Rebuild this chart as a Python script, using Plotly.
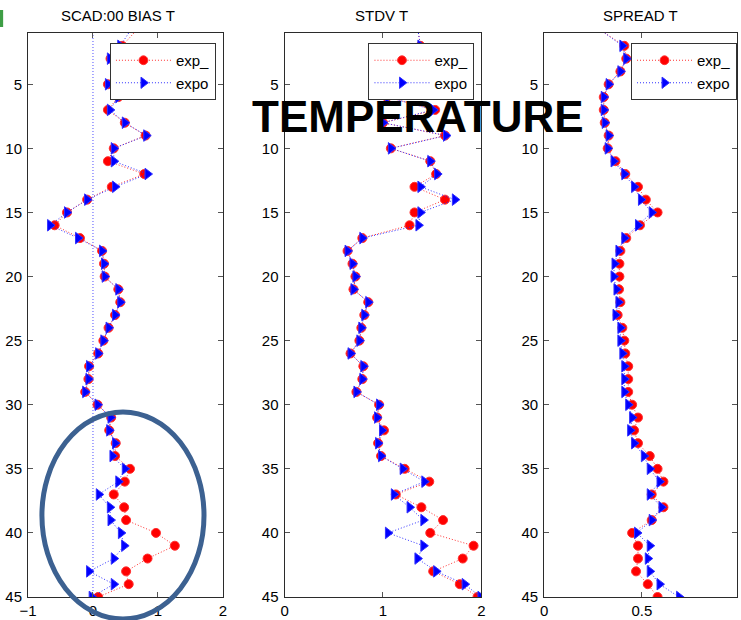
import plotly.graph_objects as go

levels = list(range(1, 46))

bias_exp_ = [0.63, 0.45, 0.27, 0.42, 0.23, 0.39, 0.23, 0.49, 0.81, 0.32,
             0.23, 0.79, 0.29, -0.09, -0.40, -0.59, -0.20, 0.14, 0.17, 0.18,
             0.39, 0.42, 0.34, 0.24, 0.16, 0.08, -0.06, -0.07, -0.12, 0.07,
             0.28, 0.25, 0.35, 0.34, 0.57, 0.49, 0.32, 0.48, 0.51, 0.97,
             1.26, 0.84, 0.51, 0.55, 0.08]
bias_expo = [0.55, 0.42, 0.26, 0.40, 0.23, 0.39, 0.26, 0.49, 0.82, 0.32,
             0.32, 0.84, 0.34, -0.09, -0.40, -0.66, -0.23, 0.14, 0.17, 0.18,
             0.39, 0.42, 0.34, 0.24, 0.16, 0.08, -0.06, -0.07, -0.12, 0.07,
             0.27, 0.25, 0.34, 0.30, 0.49, 0.39, 0.09, 0.26, 0.27, 0.43,
             0.48, 0.32, -0.06, 0.32, -0.02]

stdv_exp_ = [1.36, 1.38, 1.50, 1.45, 1.25, 1.04, 1.53, 1.00, 1.63, 1.08,
             1.48, 1.54, 1.32, 1.63, 1.32, 1.27, 0.79, 0.64, 0.69, 0.72,
             0.70, 0.85, 0.81, 0.78, 0.76, 0.67, 0.80, 0.79, 0.73, 0.96,
             0.94, 1.01, 0.95, 0.98, 1.22, 1.47, 1.13, 1.39, 1.61, 1.48,
             1.92, 1.81, 1.51, 1.78, 1.96]
stdv_expo = [1.36, 1.38, 1.50, 1.45, 1.25, 1.05, 1.51, 1.00, 1.64, 1.08,
             1.48, 1.55, 1.38, 1.73, 1.38, 1.36, 0.79, 0.64, 0.69, 0.72,
             0.70, 0.85, 0.81, 0.78, 0.76, 0.67, 0.80, 0.79, 0.73, 0.96,
             0.94, 0.99, 0.95, 0.98, 1.20, 1.42, 1.11, 1.27, 1.41, 1.05,
             1.41, 1.35, 1.54, 1.83, 1.99]

spread_exp_ = [0.31, 0.41, 0.42, 0.39, 0.33, 0.305, 0.305, 0.31, 0.33, 0.325,
               0.365, 0.415, 0.48, 0.52, 0.58, 0.49, 0.42, 0.39, 0.385, 0.385,
               0.383, 0.39, 0.376, 0.40, 0.41, 0.415, 0.43, 0.43, 0.43, 0.45,
               0.48, 0.46, 0.48, 0.54, 0.58, 0.61, 0.55, 0.61, 0.55, 0.45,
               0.48, 0.48, 0.47, 0.53, 0.58]
spread_expo = [0.31, 0.40, 0.42, 0.39, 0.33, 0.305, 0.305, 0.31, 0.33, 0.325,
               0.355, 0.41, 0.46, 0.495, 0.55, 0.48, 0.41, 0.38, 0.36, 0.355,
               0.37, 0.38, 0.365, 0.39, 0.39, 0.40, 0.41, 0.41, 0.41, 0.43,
               0.45, 0.44, 0.46, 0.51, 0.54, 0.59, 0.54, 0.60, 0.55, 0.475,
               0.54, 0.53, 0.54, 0.59, 0.69]

titles = ["SCAD:00 BIAS T", "STDV T", "SPREAD T"]
series_names = ["exp_", "expo"]
y_ticks = [5, 10, 15, 20, 25, 30, 35, 40, 45]
x_ticks = [[-1, 0, 1, 2], [0, 1, 2], [0, 0.5, 1]]
x_ranges = [[-1, 2], [0, 2], [0, 0.986]]
overlay_text = "TEMPERATURE"

W, H = 741, 620
ML, MR, MT, MB = 28, 0, 33, 23
PW = W - ML - MR
PH = H - MT - MB

def px_x(p):
    return (p - ML) / PW

def px_y(p):
    return (H - MB - p) / PH

domains = [[px_x(28), px_x(224)], [px_x(286), px_x(484)], [px_x(547), 1.0]]
legend_right = [px_x(217), px_x(477), 1.0]
title_x = [118.5, 383, 643.5]

panels = [(bias_exp_, bias_expo), (stdv_exp_, stdv_expo), (spread_exp_, spread_expo)]

# the top level sits on the axis edge; its marker is not drawn (clipped)
red_sizes = [0 if lv == 1 else 9 for lv in levels]
blue_sizes = [0 if lv == 1 else 10 for lv in levels]

fig = go.Figure()
for i, (red_vals, blue_vals) in enumerate(panels):
    sfx = "" if i == 0 else str(i + 1)
    lg = "legend" + sfx
    fig.add_trace(go.Scatter(
        x=red_vals, y=levels, name=series_names[0], mode="lines+markers",
        line=dict(color="#ff3030", width=1, dash="1px,2px"),
        marker=dict(symbol="circle", size=red_sizes, color="#ff0000", opacity=1),
        xaxis="x" + sfx, yaxis="y" + sfx, legend=lg))
    fig.add_trace(go.Scatter(
        x=blue_vals, y=levels, name=series_names[1], mode="lines+markers",
        line=dict(color="#3030ff", width=1, dash="1px,2px"),
        marker=dict(symbol="triangle-right", size=blue_sizes, color="#0000ff", opacity=1),
        xaxis="x" + sfx, yaxis="y" + sfx, legend=lg))

axis_common = dict(showgrid=False, zeroline=False, showline=True, linecolor="#2b2b2b",
                   linewidth=1, mirror="allticks", ticks="inside", ticklen=5,
                   tickcolor="#555555", tickfont=dict(family="Liberation Sans", size=15, color="black"))

layout = dict(
    width=W, height=H, margin=dict(l=ML, r=MR, t=MT, b=MB),
    paper_bgcolor="white", plot_bgcolor="white", showlegend=True,
)
for i in range(3):
    sfx = "" if i == 0 else str(i + 1)
    layout["xaxis" + sfx] = dict(axis_common, domain=domains[i], range=x_ranges[i],
                                 tickvals=x_ticks[i], anchor="y" + sfx)
    layout["yaxis" + sfx] = dict(axis_common, domain=[0, 1], range=[45, 1],
                                 tickvals=y_ticks, anchor="x" + sfx, ticklabelstandoff=2)
    layout["legend" + sfx] = dict(x=legend_right[i], y=px_y(43), xanchor="right", yanchor="top",
                                  bgcolor="white", bordercolor="#333333", borderwidth=1,
                                  font=dict(family="Liberation Sans", size=15, color="black"),
                                  itemwidth=55, tracegroupgap=0)
fig.update_layout(**layout)

for i in range(3):
    fig.add_annotation(text=titles[i], xref="paper", yref="paper",
                       x=px_x(title_x[i]), y=px_y(16), xanchor="center", yanchor="middle",
                       showarrow=False,
                       font=dict(family="Liberation Sans", size=15, color="black"))

# zero reference line in first panel
fig.add_shape(type="line", xref="x", yref="y domain", x0=0, x1=0, y0=0, y1=1,
              line=dict(color="#5050ff", width=1, dash="1px,2px"), layer="below")

fig.add_annotation(text="<b>" + overlay_text + "</b>", xref="paper", yref="paper",
                   x=px_x(420), y=px_y(116), xanchor="center", yanchor="middle",
                   showarrow=False,
                   font=dict(family="Liberation Sans", size=44, color="black"))

# highlight ellipse
fig.add_shape(type="circle", xref="paper", yref="paper",
              x0=px_x(42), x1=px_x(205), y0=px_y(619), y1=px_y(412),
              line=dict(color="#3c6191", width=5), layer="above")

# small green mark at top-left corner
fig.add_shape(type="rect", xref="paper", yref="paper",
              x0=px_x(-3), x1=px_x(3), y0=px_y(27), y1=px_y(10),
              line=dict(width=0), fillcolor="#3e9e45", layer="above")

fig.write_html("out.html")
